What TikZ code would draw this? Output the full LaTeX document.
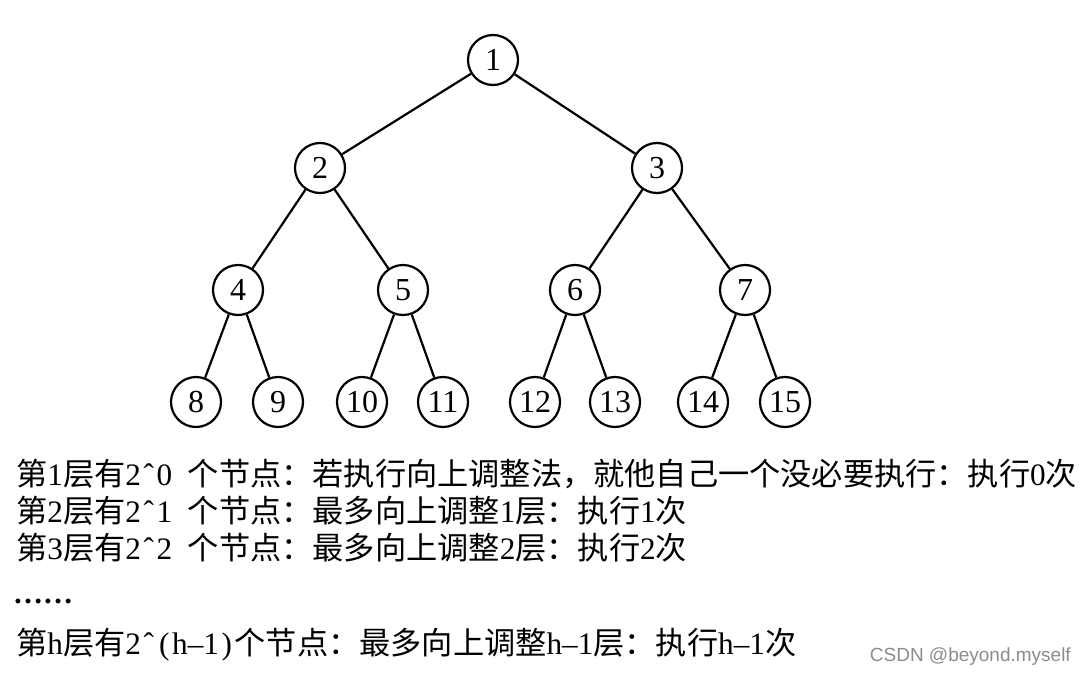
\documentclass[tikz,border=0pt]{standalone}
\usepackage{fontspec}
\setmainfont{Liberation Serif}
\newfontfamily\cjk{Noto Sans CJK SC}
\newfontfamily\wmfont{Liberation Sans}
\newcommand\hwc[1]{\makebox[0.5em][c]{\rmfamily #1}}
\tikzset{
  tn/.style={circle,draw,line width=2.2pt,minimum size=50pt,inner sep=0pt,
    font=\rmfamily\fontsize{32}{32}\selectfont},
  edge/.style={line width=2.2pt},
  txt/.style={anchor=west,inner sep=0pt,font=\cjk\fontsize{31.2}{31.2}\selectfont},
}
\begin{document}
\begin{tikzpicture}[x=1pt,y=-1pt]
\useasboundingbox[fill=white] (0,0) rectangle (1086,677);
\node[tn] (n1) at (493,60) {1};
\node[tn] (n2) at (320,168) {2};
\node[tn] (n3) at (657,168) {3};
\node[tn] (n4) at (238,290) {4};
\node[tn] (n5) at (403,290) {5};
\node[tn] (n6) at (575,290) {6};
\node[tn] (n7) at (745,290) {7};
\node[tn] (n8) at (196,402) {8};
\node[tn] (n9) at (278,402) {9};
\node[tn] (n10) at (362,402) {10};
\node[tn] (n11) at (443,402) {11};
\node[tn] (n12) at (535,402) {12};
\node[tn] (n13) at (615,402) {13};
\node[tn] (n14) at (703,402) {14};
\node[tn] (n15) at (785,402) {15};
\draw[edge] (n1) -- (n2);
\draw[edge] (n1) -- (n3);
\draw[edge] (n2) -- (n4);
\draw[edge] (n2) -- (n5);
\draw[edge] (n3) -- (n6);
\draw[edge] (n3) -- (n7);
\draw[edge] (n4) -- (n8);
\draw[edge] (n4) -- (n9);
\draw[edge] (n5) -- (n10);
\draw[edge] (n5) -- (n11);
\draw[edge] (n6) -- (n12);
\draw[edge] (n6) -- (n13);
\draw[edge] (n7) -- (n14);
\draw[edge] (n7) -- (n15);
\node[txt] (l1) at (16,474) {第\hwc{1}层有\hwc{2}\hwc{ˆ}\hwc{0}\hwc{}个节点：若执行向上调整法，就他自己一个没必要执行：执行\hwc{0}次};
\node[txt] (l2) at (16,511) {第\hwc{2}层有\hwc{2}\hwc{ˆ}\hwc{1}\hwc{}个节点：最多向上调整\hwc{1}层：执行\hwc{1}次};
\node[txt] (l3) at (16,548) {第\hwc{3}层有\hwc{2}\hwc{ˆ}\hwc{2}\hwc{}个节点：最多向上调整\hwc{2}层：执行\hwc{2}次};
\node[anchor=base west,inner sep=0pt,font=\rmfamily\bfseries\fontsize{30}{30}\selectfont] (dots) at (13,603) {……};
\node[txt] (l4) at (16,645) {第\hwc{h}层有\hwc{2}\hwc{ˆ}\hwc{(}\hwc{h}\hwc{–}\hwc{1}\hwc{)}个节点：最多向上调整\hwc{h}\hwc{–}\hwc{1}层：执行\hwc{h}\hwc{–}\hwc{1}次};
\node[anchor=east,inner sep=0pt,text=black!45,font=\wmfont\fontsize{19}{19}\selectfont] (wm) at (1071,657) {CSDN @beyond.myself};
\end{tikzpicture}
\end{document}
